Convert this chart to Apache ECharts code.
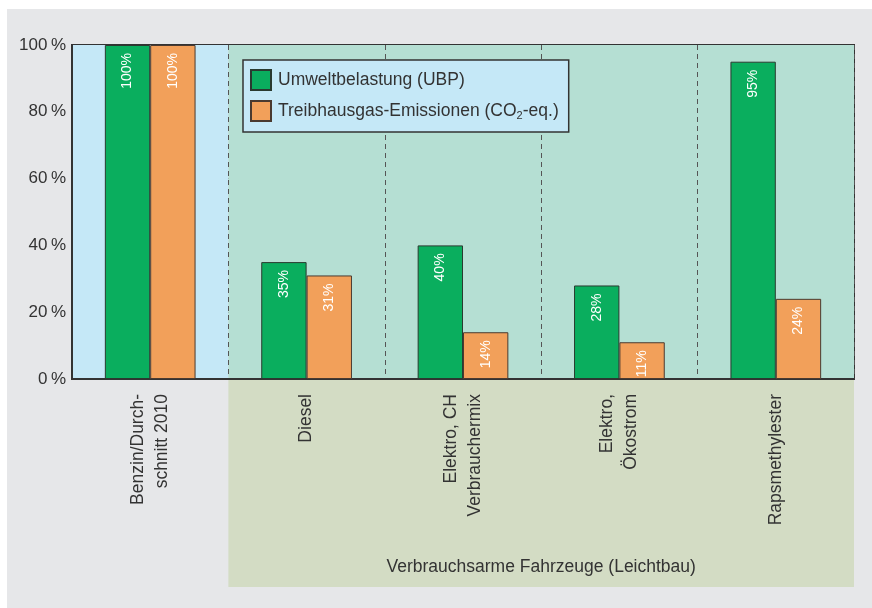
<!DOCTYPE html>
<html>
<head>
<meta charset="utf-8">
<script src="https://cdn.jsdelivr.net/npm/echarts@6/dist/echarts.min.js"></script>
<style>
  html, body { margin: 0; padding: 0; background: #fff; }
  #chart { position: absolute; left: 7px; top: 9px; width: 865px; height: 599px; background: #e6e7e9; }
</style>
</head>
<body>
<div id="chart"></div>
<script>
const categories = [
  'Benzin/Durch-\nschnitt 2010',
  'Diesel',
  'Elektro, CH\nVerbrauchermix',
  'Elektro,\nÖkostrom',
  'Rapsmethylester'
];
const ubpValues = [100, 35, 40, 28, 95];
const co2Values = [100, 31, 14, 11, 24];
const seriesNames = ['Umweltbelastung (UBP)', 'Treibhausgas-Emissionen (CO2-eq.)'];
const groupLabel = 'Verbrauchsarme Fahrzeuge (Leichtbau)';

const gridLeft = 65, gridRight = 18, gridTop = 36, gridBottom = 229;
const W = 865, H = 599;
const plotW = W - gridLeft - gridRight;
const boxX = gridLeft + plotW / categories.length;

const barLabel = {
  show: true,
  position: 'insideTop',
  rotate: 90,
  align: 'right',
  verticalAlign: 'middle',
  distance: 8,
  color: '#fff',
  fontSize: 14,
  fontFamily: 'Liberation Sans',
  formatter: '{c}%'
};

const chart = echarts.init(document.getElementById('chart'));
chart.setOption({
  animation: false,
  textStyle: { fontFamily: 'Liberation Sans' },
  graphic: [
    {
      type: 'rect',
      z: -10,
      shape: { x: boxX, y: H - gridBottom + 1, width: W - gridRight - boxX, height: 207 },
      style: { fill: '#d3dcc4' }
    },
    {
      type: 'text',
      z: 10,
      x: (boxX + W - gridRight) / 2,
      y: 558,
      style: {
        text: groupLabel,
        fill: '#333',
        fontSize: 17.5,
        fontFamily: 'Liberation Sans',
        textAlign: 'center',
        textVerticalAlign: 'middle'
      }
    }
  ],
  legend: {
    orient: 'vertical',
    left: 236,
    top: 51,
    padding: [9, 10, 10, 7],
    itemGap: 9,
    itemWidth: 20,
    itemHeight: 20,
    icon: 'rect',
    backgroundColor: '#c5e8f7',
    borderColor: '#333',
    borderWidth: 1.5,
    selectedMode: false,
    data: seriesNames,
    formatter: function (name) {
      return name.replace('CO2', 'CO{sub|2}');
    },
    textStyle: {
      fontSize: 17.5,
      color: '#333',
      padding: [0, 0, 0, 2],
      rich: {
        sub: { fontSize: 11, padding: [9, 0, 0, 0] }
      }
    }
  },
  grid: {
    left: gridLeft,
    right: gridRight,
    top: gridTop,
    bottom: gridBottom,
    show: true,
    borderColor: '#333',
    borderWidth: 2
  },
  xAxis: {
    type: 'category',
    data: categories,
    axisLine: { lineStyle: { color: '#333', width: 2 } },
    axisTick: { show: false },
    axisLabel: {
      interval: 0,
      rotate: 90,
      margin: 15,
      fontSize: 17.5,
      lineHeight: 24,
      color: '#333'
    },
    splitLine: {
      show: true,
      lineStyle: { color: '#555', type: [5, 4], width: 1 }
    },
    splitArea: {
      show: true,
      areaStyle: { color: ['#c5e8f7', '#b5dfd3', '#b5dfd3', '#b5dfd3', '#b5dfd3'] }
    }
  },
  yAxis: {
    type: 'value',
    min: 0,
    max: 100,
    interval: 20,
    axisLine: { show: true, lineStyle: { color: '#333', width: 2 } },
    axisTick: { show: false },
    axisLabel: {
      margin: 6,
      fontSize: 17,
      color: '#333',
      formatter: function (v) { return v + '\u2009%'; }
    },
    splitLine: {
      show: true,
      lineStyle: { color: '#555', type: [5, 4], width: 1 }
    }
  },
  series: [
    {
      name: seriesNames[0],
      type: 'bar',
      data: ubpValues,
      barGap: '0%',
      barCategoryGap: '42%',
      itemStyle: { color: '#0aae5e', borderColor: '#2a3a30', borderWidth: 1 },
      label: barLabel
    },
    {
      name: seriesNames[1],
      type: 'bar',
      data: co2Values,
      itemStyle: { color: '#f2a05a', borderColor: '#4a3a30', borderWidth: 1 },
      label: barLabel
    }
  ]
});
</script>
</body>
</html>
